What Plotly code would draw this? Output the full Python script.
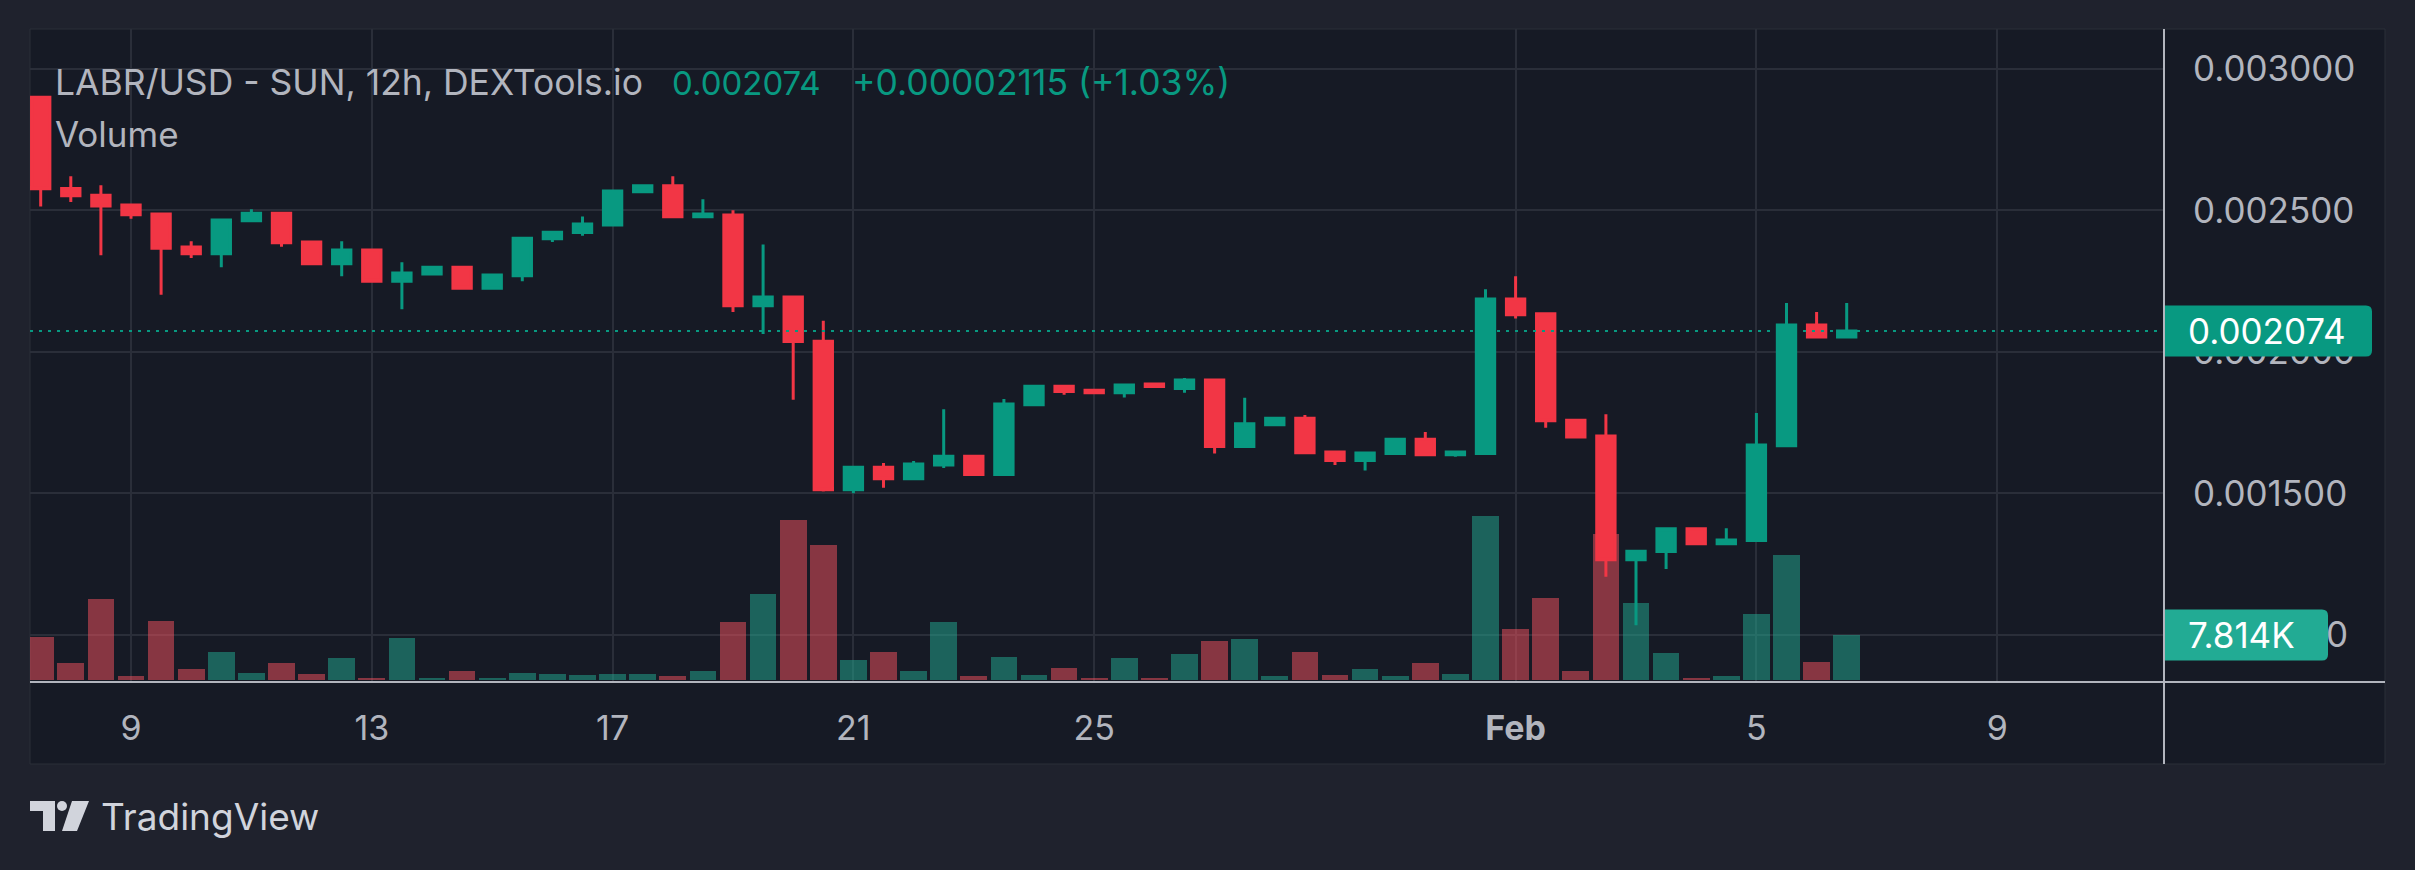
import plotly.graph_objects as go
import pandas as pd

# ---------------- data ----------------
opens = [0.002900, 0.002578, 0.002554, 0.002519, 0.002488, 0.002371, 0.002347, 0.002464, 0.002490, 0.002389,
         0.002312, 0.002360, 0.002250, 0.002276, 0.002299, 0.002225, 0.002269, 0.002400, 0.002422, 0.002449,
         0.002566, 0.002587, 0.002478, 0.002484, 0.002163, 0.002194, 0.002038, 0.001513, 0.001593, 0.001552,
         0.001601, 0.001632, 0.001567, 0.001814, 0.001879, 0.001865, 0.001856, 0.001887, 0.001871, 0.001901,
         0.001666, 0.001743, 0.001766, 0.001647, 0.001617, 0.001641, 0.001692, 0.001637, 0.001641, 0.002187,
         0.002135, 0.001759, 0.001703, 0.001266, 0.001295, 0.001375, 0.001322, 0.001334, 0.001669, 0.002095,
         0.002053]
highs = [0.002905, 0.002621, 0.002589, 0.002521, 0.002490, 0.002391, 0.002466, 0.002504, 0.002490, 0.002389,
         0.002391, 0.002360, 0.002317, 0.002299, 0.002299, 0.002272, 0.002402, 0.002423, 0.002479, 0.002569,
         0.002593, 0.002621, 0.002540, 0.002501, 0.002380, 0.002194, 0.002110, 0.001593, 0.001608, 0.001615,
         0.001798, 0.001632, 0.001834, 0.001879, 0.001883, 0.001865, 0.001887, 0.001887, 0.001908, 0.001901,
         0.001838, 0.001766, 0.001777, 0.001647, 0.001647, 0.001692, 0.001717, 0.001647, 0.002222, 0.002268,
         0.002135, 0.001759, 0.001780, 0.001296, 0.001375, 0.001379, 0.001377, 0.001784, 0.002173, 0.002141,
         0.002173]
lows = [0.002514, 0.002530, 0.002342, 0.002471, 0.002202, 0.002332, 0.002299, 0.002464, 0.002372, 0.002312,
        0.002268, 0.002250, 0.002151, 0.002276, 0.002225, 0.002225, 0.002250, 0.002389, 0.002411, 0.002445,
        0.002566, 0.002473, 0.002478, 0.002141, 0.002064, 0.001831, 0.001507, 0.001501, 0.001520, 0.001552,
        0.001590, 0.001567, 0.001567, 0.001814, 0.001849, 0.001856, 0.001839, 0.001873, 0.001856, 0.001641,
        0.001666, 0.001743, 0.001644, 0.001601, 0.001581, 0.001641, 0.001633, 0.001630, 0.001641, 0.002118,
        0.001732, 0.001696, 0.001206, 0.001034, 0.001233, 0.001322, 0.001322, 0.001334, 0.001669, 0.002051,
        0.002053]
closes = [0.002577, 0.002552, 0.002516, 0.002485, 0.002367, 0.002347, 0.002466, 0.002490, 0.002386, 0.002312,
          0.002360, 0.002250, 0.002279, 0.002299, 0.002225, 0.002272, 0.002402, 0.002423, 0.002452, 0.002569,
          0.002587, 0.002478, 0.002488, 0.002163, 0.002194, 0.002037, 0.001513, 0.001593, 0.001552, 0.001604,
          0.001632, 0.001567, 0.001816, 0.001879, 0.001860, 0.001856, 0.001883, 0.001878, 0.001901, 0.001666,
          0.001746, 0.001766, 0.001644, 0.001617, 0.001643, 0.001692, 0.001637, 0.001647, 0.002187, 0.002132,
          0.001757, 0.001700, 0.001266, 0.001296, 0.001375, 0.001322, 0.001336, 0.001671, 0.002095, 0.002053,
          0.002074]
volumes_k = [7.47, 2.88, 13.98, 0.62, 10.28, 1.85, 4.87, 1.30, 2.88, 0.96,
             3.77, 0.41, 7.33, 0.41, 1.64, 0.41, 1.17, 0.96, 0.82, 0.96,
             0.96, 0.62, 1.51, 10.14, 14.87, 27.76, 23.37, 3.43, 4.87, 1.51,
             10.14, 0.62, 3.98, 0.82, 2.06, 0.41, 3.77, 0.41, 4.52, 6.79,
             7.13, 0.62, 4.87, 0.82, 1.85, 0.62, 2.88, 0.96, 28.44, 8.91,
             14.32, 1.51, 25.43, 13.30, 4.66, 0.41, 0.62, 11.38, 21.73, 3.08,
             7.814]
first_bar = "2025-01-07 12:00"
bar_freq = "12h"

x_tick_dates = ["2025-01-09", "2025-01-13", "2025-01-17", "2025-01-21", "2025-01-25",
                "2025-02-01", "2025-02-05", "2025-02-09"]
x_tick_text = ["9", "13", "17", "21", "25", "<b>Feb</b>", "5", "9"]
price_ticks = [0.0010, 0.0015, 0.0020, 0.0025, 0.0030]
price_tick_text = ["0.001000", "0.001500", "0.002000", "0.002500", "0.003000"]

header_symbol = "LABR/USD - SUN, 12h, DEXTools.io"
header_last = "0.002074"
header_change = "+0.00002115 (+1.03%)"
last_price = closes[-1]
last_volume_label = "7.814K"

assert len(opens) == len(highs) == len(lows) == len(closes) == len(volumes_k)

# ---------------- styling ----------------
W, H = 2415, 870
PL, PR, PT, PB = 30, 2164, 29, 682          # plot area in px
PANEL_R, PANEL_B = 2385, 764
UP, DOWN = "#089981", "#f23645"
VOL_UP, VOL_DOWN = "rgba(34,171,148,0.5)", "rgba(247,82,95,0.5)"
OUTER_BG, PANEL_BG = "#1f222d", "#161a25"
GRID = "#2a2e39"
TXT = "#b2b5be"
FONT = "Inter"

def xp(px):
    return (px - PL) / (PR - PL)

def yp(py):
    return (PB - py) / (PB - PT)

times = pd.date_range(first_bar, periods=len(opens), freq=bar_freq)
vol_colors = [VOL_UP if c >= o else VOL_DOWN for o, c in zip(opens, closes)]

# price scale: 283000 px per unit price, volume scale: 5.759 px per K
price_range = [0.0008339, 0.0031413]
vol_range = [-0.347, 113.04]

fig = go.Figure()
fig.add_trace(go.Bar(
    x=times, y=volumes_k, marker=dict(color=vol_colors, line=dict(width=0)),
    width=0.886 * 12 * 3600 * 1000, yaxis="y", xaxis="x", hoverinfo="skip",
))
fig.add_trace(go.Candlestick(
    x=times, open=opens, high=highs, low=lows, close=closes,
    increasing=dict(line=dict(color=UP, width=3), fillcolor=UP),
    decreasing=dict(line=dict(color=DOWN, width=3), fillcolor=DOWN),
    whiskerwidth=0, yaxis="y2", xaxis="x", hoverinfo="skip",
))

shapes = []
# panel background
shapes.append(dict(type="rect", xref="paper", yref="paper", x0=xp(PL), x1=xp(PANEL_R),
                   y0=yp(PANEL_B), y1=yp(PT), fillcolor=PANEL_BG,
                   line=dict(color=GRID, width=1), layer="below"))
# last-price dotted line
shapes.append(dict(type="line", xref="paper", yref="y2", x0=0, x1=1, y0=last_price, y1=last_price,
                   line=dict(color=UP, width=2, dash="3px,6px"), layer="above"))

def rounded_box(x0, x1, yc, half_h, rx, ry):
    return (f"M {x0},{yc - half_h} L {x1 - rx},{yc - half_h} Q {x1},{yc - half_h} {x1},{yc - half_h + ry} "
            f"L {x1},{yc + half_h - ry} Q {x1},{yc + half_h} {x1 - rx},{yc + half_h} L {x0},{yc + half_h} Z")

px_per_price = 283000.0
px_per_k = 5.759
# last price label box
shapes.append(dict(type="path", xref="paper", yref="y2",
                   path=rounded_box(xp(PR), xp(2372), last_price, 25.5 / px_per_price,
                                    6 / (PR - PL), 6 / px_per_price),
                   fillcolor=UP, line=dict(width=0), layer="above"))
# last volume label box
shapes.append(dict(type="path", xref="paper", yref="y",
                   path=rounded_box(xp(PR), xp(2328), volumes_k[-1], 25.5 / px_per_k,
                                    6 / (PR - PL), 6 / px_per_k),
                   fillcolor="#22ab94", line=dict(width=0), layer="above"))
# axis separators
shapes.append(dict(type="line", xref="paper", yref="paper", x0=xp(PL), x1=xp(PANEL_R), y0=yp(PB), y1=yp(PB),
                   line=dict(color=TXT, width=2), layer="above"))
shapes.append(dict(type="line", xref="paper", yref="paper", x0=xp(PR), x1=xp(PR), y0=yp(PANEL_B), y1=yp(PT),
                   line=dict(color=TXT, width=2), layer="above"))
# TradingView logo (approximation)
LOGO = "#d1d4dc"
def pth(points):
    return "M " + " L ".join(f"{xp(a)},{yp(b)}" for a, b in points) + " Z"
shapes.append(dict(type="path", xref="paper", yref="paper",
                   path=pth([(30, 801), (55, 801), (55, 831), (43, 831), (43, 811), (30, 811)]),
                   fillcolor=LOGO, line=dict(width=0)))
shapes.append(dict(type="circle", xref="paper", yref="paper",
                   x0=xp(57), x1=xp(67), y0=yp(811), y1=yp(801), fillcolor=LOGO, line=dict(width=0)))
shapes.append(dict(type="path", xref="paper", yref="paper",
                   path=pth([(72, 801), (89, 801), (77, 831), (62, 831)]),
                   fillcolor=LOGO, line=dict(width=0)))

annotations = [
    dict(text=header_symbol, x=xp(53), y=yp(83), xref="paper", yref="paper", xanchor="left", yanchor="middle",
         showarrow=False, font=dict(family=FONT, size=35.5, color=TXT)),
    dict(text=header_last, x=xp(670), y=yp(83), xref="paper", yref="paper", xanchor="left", yanchor="middle",
         showarrow=False, font=dict(family=FONT, size=33, color=UP)),
    dict(text=header_change, x=xp(850), y=yp(83), xref="paper", yref="paper", xanchor="left", yanchor="middle",
         showarrow=False, font=dict(family=FONT, size=35.5, color=UP)),
    dict(text="Volume", x=xp(53), y=yp(134), xref="paper", yref="paper", xanchor="left", yanchor="middle",
         showarrow=False, font=dict(family=FONT, size=35, color=TXT)),
    dict(text=header_last, x=xp(2186), y=last_price, xref="paper", yref="y2", xanchor="left", yanchor="middle",
         showarrow=False, font=dict(family=FONT, size=35, color="#ffffff")),
    dict(text=last_volume_label, x=xp(2186), y=volumes_k[-1], xref="paper", yref="y", xanchor="left",
         yanchor="middle", showarrow=False, font=dict(family=FONT, size=35, color="#ffffff")),
    dict(text="TradingView", x=xp(99), y=yp(816), xref="paper", yref="paper", xanchor="left", yanchor="middle",
         showarrow=False, font=dict(family=FONT, size=37, color=LOGO)),
]

fig.update_layout(
    width=W, height=H,
    margin=dict(l=PL, r=W - PR, t=PT, b=H - PB, pad=0),
    paper_bgcolor=OUTER_BG, plot_bgcolor=PANEL_BG,
    showlegend=False, hovermode=False,
    boxgap=0.39, boxgroupgap=0, bargap=0,
    xaxis=dict(type="date", range=["2025-01-07 07:44", "2025-02-11 18:30"],
               tickvals=x_tick_dates, ticktext=x_tick_text,
               showgrid=True, gridcolor=GRID, gridwidth=2,
               ticks="outside", ticklen=16, tickcolor="rgba(0,0,0,0)",
               tickfont=dict(family=FONT, size=34, color=TXT),
               showline=False, zeroline=False, rangeslider=dict(visible=False),
               automargin=False, fixedrange=True),
    yaxis=dict(range=vol_range, visible=False, showgrid=False, zeroline=False, fixedrange=True),
    yaxis2=dict(range=price_range, overlaying="y", side="right", anchor="x",
                tickvals=price_ticks, ticktext=price_tick_text,
                showgrid=True, gridcolor=GRID, gridwidth=2, zeroline=False,
                ticks="outside", ticklen=21, tickcolor="rgba(0,0,0,0)",
                tickfont=dict(family=FONT, size=35, color=TXT),
                showline=False, automargin=False, fixedrange=True),
    shapes=shapes, annotations=annotations,
)

fig.write_html("out.html", config={"displayModeBar": False})
